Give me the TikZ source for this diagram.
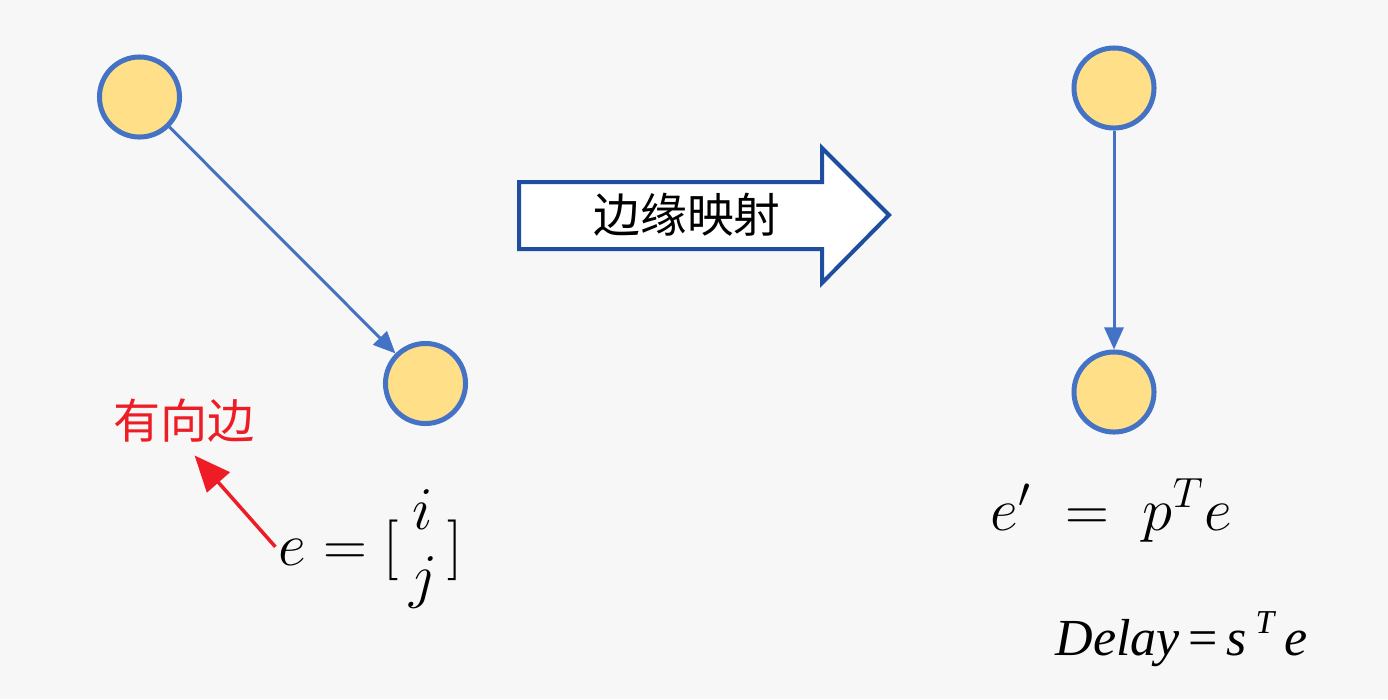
\documentclass[tikz,border=0pt]{standalone}
\usepackage{fontspec}
\usepackage{amsmath}
\usepackage{xcolor}
\usetikzlibrary{arrows.meta}
\newfontfamily\cjk{Noto Sans CJK SC}
\newfontfamily\timesfont{Liberation Serif}
\definecolor{bggray}{HTML}{F7F7F7}
\definecolor{nodeblue}{HTML}{4472C4}
\definecolor{nodeyellow}{HTML}{FFDF87}
\definecolor{mapblue}{HTML}{1F4EA0}
\definecolor{labelred}{HTML}{EE1C25}

\begin{document}
\begin{tikzpicture}[x=0.01cm, y=-0.01cm,
            nd/.style={circle, fill=nodeyellow, draw=nodeblue, line width=0.05cm, minimum size=0.8cm, inner sep=0},
            ed/.style={-{Triangle[length=0.22cm, width=0.19cm]}, nodeblue, line width=0.03cm}]
            \path[fill=bggray] (0,0) rectangle (1388,699);

            % Directed edge
            \node[nd] (u1) at (139.5, 97) {};
            \node[nd] (v1) at (425.5, 383.5) {};
            \draw[ed] (u1) -- (v1);
            \node[anchor=base west, inner sep=0, font=\fontsize{18.5}{21}\selectfont] (edgeeq) at (278, 565)
                {$e = [\mkern3mu{\renewcommand\arraystretch{0.9}\begin{array}{@{}c@{}} i\\ j\end{array}}\mkern3mu]$};
            \node[labelred, inner sep=0, font=\cjk\fontsize{13.4}{16}\selectfont] (dirlabel) at (184, 421) {有向边};
            \draw[-{Triangle[length=0.36cm, width=0.3cm]}, labelred, line width=0.035cm, shorten <=0.04cm, shorten >=0.16cm]
                (edgeeq.west) -- (dirlabel.south);

            % Mapping arrow
            \draw[mapblue, line width=0.04cm, fill=white, line join=miter]
                (519, 182) -- (822, 182) -- (822, 148) -- (889, 215) -- (822, 283) -- (822, 249) -- (519, 249) -- cycle;
            \node[font=\cjk\fontsize{13.3}{16}\selectfont] (maplabel) at (687, 215) {边缘映射};

            % Mapped edge
            \node[nd] (u2) at (1114, 88) {};
            \node[nd] (v2) at (1114, 392) {};
            \draw[ed] (u2) -- (v2);
            \node[anchor=base west, inner sep=0, font=\fontsize{18}{22}\selectfont] (mapeq) at (990, 530)
                {$e' \;=\; p^{T} e$};
            \node[anchor=base west, inner sep=0, font=\timesfont\fontsize{14.8}{17}\selectfont] (delayeq) at (1055, 655)
                {\textit{Delay}\,=\,\textit{s}\,\raisebox{0.9ex}{\fontsize{9.5}{10}\selectfont\textit{T}}\,\textit{e}};
        \end{tikzpicture}
\end{document}
